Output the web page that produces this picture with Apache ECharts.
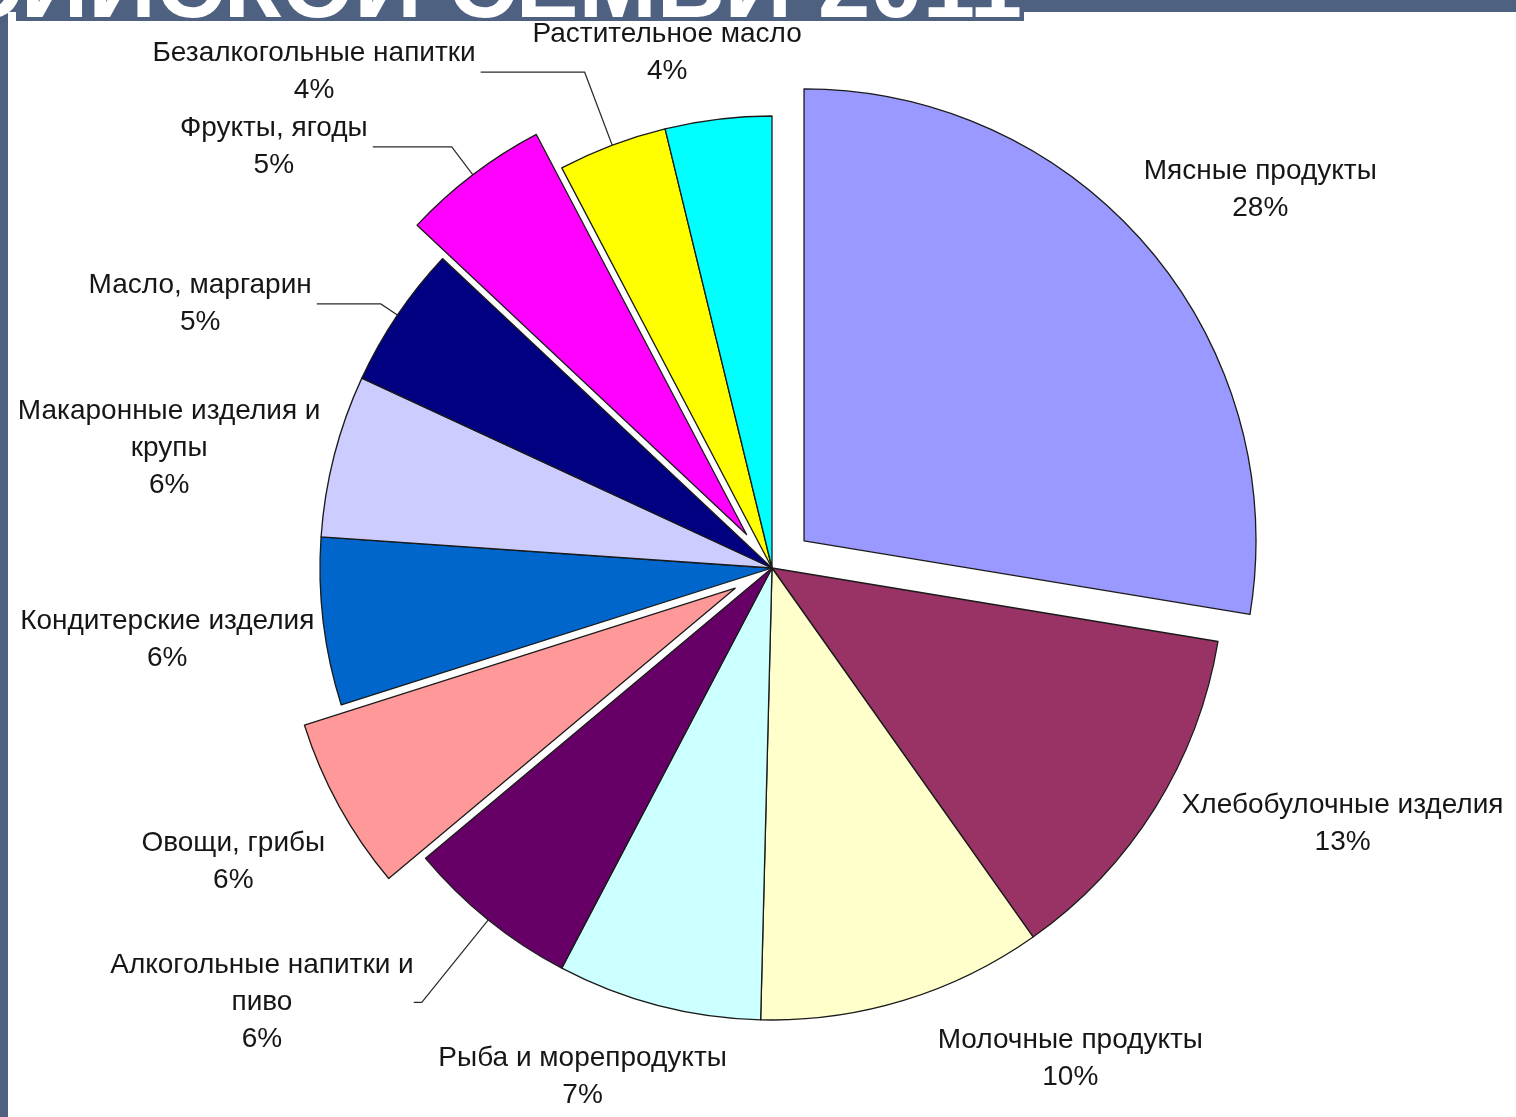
<!DOCTYPE html>
<html>
<head>
<meta charset="utf-8">
<script src="https://cdn.jsdelivr.net/npm/echarts@6/dist/echarts.min.js"></script>
<style>
  html, body { margin: 0; padding: 0; background: #ffffff; }
  #chart { width: 1516px; height: 1117px; }
</style>
</head>
<body>
<div id="chart"></div>
<script>
// ---- data (shares in %; labels show them rounded) ----
const categories = [
  'Мясные продукты',
  'Хлебобулочные изделия',
  'Молочные продукты',
  'Рыба и морепродукты',
  'Алкогольные напитки и\nпиво',
  'Овощи, грибы',
  'Кондитерские изделия',
  'Макаронные изделия и\nкрупы',
  'Масло, маргарин',
  'Фрукты, ягоды',
  'Безалкогольные напитки',
  'Растительное масло'
];
const values = [27.6, 12.6, 10.2, 7.3, 6.2, 6.2, 6.0, 5.8, 5.1, 5.3, 3.9, 3.8];
const explodedSlices = ['Мясные продукты', 'Овощи, грибы', 'Фрукты, ягоды'];
const titleText = 'РОССИЙСКОЙ СЕМЬИ 2011';

// ---- styling ----
const colors = ['#9999FF', '#993366', '#FFFFCC', '#CCFFFF', '#660066', '#FF9999',
                '#0066CC', '#CCCCFF', '#000080', '#FF00FF', '#FFFF00', '#00FFFF'];
const leaderShown = [false, false, false, false, true, false, false, false, true, true, true, false];
const leaderLen  = [90, 30, 61, 74, 106, 115, 148, 31, 20, 35, 78, 67];
const leaderLen2 = [38, 157, 144, 52, 8, 0, 4, 130, 64, 79, 104, 38];
const labelGap   = [5, 5, 5, 5, 0, 5, 5, 5, 5, 5, 5, 5];
const frameColor = '#4f6181';
const font = '"Liberation Sans", Arial, sans-serif';

const chart = echarts.init(document.getElementById('chart'), null, { renderer: 'canvas' });

const pieData = categories.map((name, i) => ({
  name: name,
  value: values[i],
  selected: explodedSlices.includes(name),
  itemStyle: { color: colors[i] },
  label: { distanceToLabelLine: labelGap[i] },
  labelLine: { show: leaderShown[i], length: leaderLen[i], length2: leaderLen2[i] }
}));

const richStyle = { fontFamily: font, fontSize: 28, lineHeight: 37, color: '#161616', align: 'center' };

chart.setOption({
  animation: false,
  backgroundColor: '#ffffff',
  graphic: [
    { type: 'rect', shape: { x: 0, y: 0, width: 1516, height: 12 }, style: { fill: frameColor }, z: 10 },
    { type: 'rect', shape: { x: 16, y: 0, width: 1008, height: 21 }, style: { fill: frameColor }, z: 10 },
    { type: 'rect', shape: { x: 0, y: 0, width: 8, height: 1117 }, style: { fill: frameColor }, z: 10 },
    { type: 'text', x: 1022, y: -9, z: 11,
      style: { text: titleText, fill: '#ffffff', font: 'bold 94px "Liberation Sans", Arial, sans-serif',
               textAlign: 'right', textVerticalAlign: 'middle' } }
  ],
  series: [{
    type: 'pie',
    center: [772, 568],
    radius: 452,
    startAngle: 90,
    clockwise: true,
    selectedMode: 'multiple',
    selectedOffset: 42,
    avoidLabelOverlap: false,
    emphasis: { disabled: true },
    itemStyle: { borderColor: '#1a1a1a', borderWidth: 1.3 },
    label: {
      show: true,
      position: 'outside',
      formatter: p => '{n|' + p.name + '}\n{p|' + Math.round(p.percent) + '%}',
      rich: { n: richStyle, p: richStyle }
    },
    labelLine: { lineStyle: { color: '#2a2a2a', width: 1.2 }, smooth: false },
    labelLayout: function (params) {
      if (!leaderShown[params.dataIndex]) {
        return { align: 'center' };
      }
      return {};
    },
    data: pieData
  }]
});
</script>
</body>
</html>
